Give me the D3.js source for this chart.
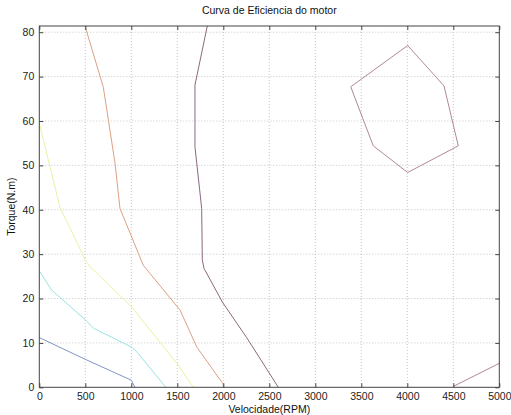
<!DOCTYPE html>
<html>
<head>
<meta charset="utf-8">
<script src="https://cdn.jsdelivr.net/npm/d3@7"></script>
<style>
  html, body { margin: 0; padding: 0; background: #fff; }
  svg { display: block; font-family: "Liberation Sans", Arial, sans-serif; }
</style>
</head>
<body>
<svg id="chart" width="511" height="415"></svg>
<script>
// Efficiency contour lines of the motor: speed (RPM) vs torque (N.m)
const xTicks = [0, 500, 1000, 1500, 2000, 2500, 3000, 3500, 4000, 4500, 5000];
const yTicks = [0, 10, 20, 30, 40, 50, 60, 70, 80];

const contourBlue = [[0, 11.2], [500, 6.3], [1000, 1.6], [1040, 0]];
const contourCyan = [[0, 26.2], [135, 21.9], [500, 15.2], [590, 13.3], [1000, 9.1], [1060, 8.0], [1375, 0]];
const contourYellow = [[0, 59.5], [225, 40.5], [500, 28.7], [550, 27.2], [1000, 18.2], [1495, 5.4], [1675, 0]];
const contourOrange = [[497, 81.4], [696, 67.6], [823, 50.5], [877, 40.3], [1130, 27.5], [1530, 17.4], [1711, 9.1], [1993, 0.9], [2007, 0]];
const contourPurple = [[1826, 81.4], [1692, 68.1], [1692, 54.2], [1765, 40.3], [1772, 28.7], [1790, 26.8], [1993, 19.1], [2254, 11.2], [2598, 0]];
const contourLoop = [[4004, 77.0], [4399, 67.9], [4554, 54.4], [4004, 48.4], [3630, 54.4], [3385, 67.7], [4004, 77.0]];
const contourCorner = [[4500, 0.2], [5000, 5.4]];

const series = [
  { pts: contourBlue, color: "#8592c8" },
  { pts: contourCyan, color: "#98e2e6" },
  { pts: contourYellow, color: "#eef0a4" },
  { pts: contourOrange, color: "#dca084" },
  { pts: contourPurple, color: "#8c6880" },
  { pts: contourLoop, color: "#b08898" },
  { pts: contourCorner, color: "#b08898" }
];

const svg = d3.select("#chart");
const box = { left: 39.3, right: 499.3, top: 26, bottom: 387.3 };

const x = d3.scaleLinear().domain([0, 5000]).range([box.left, box.right]);
const y = d3.scaleLinear().domain([0, 81.4]).range([box.bottom, box.top]);

// dotted grid
const grid = svg.append("g");
grid.selectAll("line.vx").data(xTicks.slice(1, -1)).join("line")
  .attr("x1", d => x(d)).attr("x2", d => x(d))
  .attr("y1", box.top).attr("y2", box.bottom)
  .attr("stroke", "#b8b8b8").attr("stroke-width", 0.8).attr("stroke-dasharray", "1,2");
grid.selectAll("line.hy").data(yTicks.slice(1)).join("line")
  .attr("x1", box.left).attr("x2", box.right)
  .attr("y1", d => y(d)).attr("y2", d => y(d))
  .attr("stroke", "#b8b8b8").attr("stroke-width", 0.8).attr("stroke-dasharray", "1,2");

// contour lines
const line = d3.line().x(d => x(d[0])).y(d => y(d[1]));
const plot = svg.append("g");
series.forEach(s => {
  plot.append("path").attr("d", line(s.pts))
    .attr("fill", "none").attr("stroke", s.color).attr("stroke-width", 1);
});

// axes with inward ticks
const xAxisB = d3.axisBottom(x).tickValues(xTicks).tickSize(-4).tickPadding(5).tickFormat(d3.format("d"));
const xAxisT = d3.axisTop(x).tickValues(xTicks).tickSize(-4).tickFormat("");
const yAxisL = d3.axisLeft(y).tickValues(yTicks).tickSize(-4).tickPadding(5).tickFormat(d3.format("d"));
const yAxisR = d3.axisRight(y).tickValues(yTicks).tickSize(-4).tickFormat("");

function styleAxis(g) {
  g.select(".domain").remove();
  g.selectAll(".tick line").attr("stroke", "#444");
  g.selectAll(".tick text").attr("fill", "#222").style("font-size", "10.5px");
}
svg.append("g").attr("transform", `translate(0,${box.bottom})`).call(xAxisB).call(styleAxis);
svg.append("g").attr("transform", `translate(0,${box.top})`).call(xAxisT).call(styleAxis);
svg.append("g").attr("transform", `translate(${box.left},0)`).call(yAxisL).call(styleAxis);
svg.append("g").attr("transform", `translate(${box.right},0)`).call(yAxisR).call(styleAxis);
svg.append("rect").attr("x", box.left).attr("y", box.top)
  .attr("width", box.right - box.left).attr("height", box.bottom - box.top)
  .attr("fill", "none").attr("stroke", "#444").attr("stroke-width", 1);

// titles
svg.append("text").attr("x", (box.left + box.right) / 2).attr("y", 14).attr("text-anchor", "middle")
  .style("font-size", "10.5px").attr("fill", "#111").text("Curva de Eficiencia do motor");
svg.append("text").attr("x", (box.left + box.right) / 2).attr("y", 413).attr("text-anchor", "middle")
  .style("font-size", "10.5px").attr("fill", "#111").text("Velocidade(RPM)");
svg.append("text").attr("transform", `translate(15,${(box.top + box.bottom) / 2}) rotate(-90)`)
  .attr("text-anchor", "middle").style("font-size", "10.5px").attr("fill", "#111").text("Torque(N.m)");
</script>
</body>
</html>
